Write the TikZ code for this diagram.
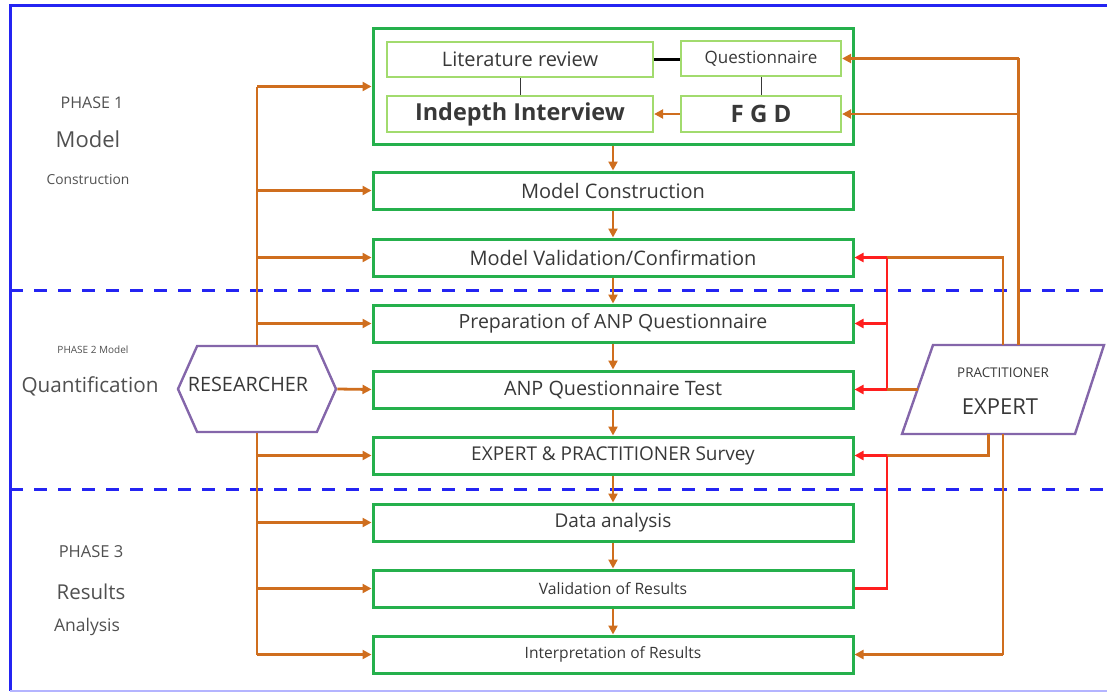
\documentclass[tikz,border=0pt]{standalone}
\usepackage{fontspec}
\setmainfont{Open Sans}
\usetikzlibrary{arrows.meta,shapes.geometric,shapes.symbols,calc}
\definecolor{frameblue}{HTML}{2424F2}
\definecolor{paleblue}{HTML}{B4B4FF}
\definecolor{boxgreen}{HTML}{25B04C}
\definecolor{lightgreen}{HTML}{A2DB6E}
\definecolor{arrorange}{HTML}{CF6E1E}
\definecolor{arrred}{HTML}{FF1E1E}
\definecolor{shapepurple}{HTML}{8466AA}
\definecolor{txt}{HTML}{383838}
\definecolor{lbl}{HTML}{505050}
\newcommand{\fs}[1]{\fontsize{#1}{#1}\selectfont}
\tikzset{
  mainbox/.style={draw=boxgreen, line width=3pt, minimum width=480pt, minimum height=37pt, inner sep=0pt, text=txt},
  subbox/.style={draw=lightgreen, line width=2.2pt, minimum height=35pt, inner sep=0pt, text=txt},
  oline/.style={draw=arrorange, line width=2.8pt},
  oarr/.style={oline, -{Triangle[length=9pt,width=9pt]}},
  rline/.style={draw=arrred, line width=2.8pt},
  rarr/.style={rline, -{Triangle[length=9pt,width=9pt]}},
  sidelbl/.style={text=lbl, inner sep=0pt},
  phasedash/.style={draw=frameblue, line width=3pt, dash pattern=on 13pt off 11pt}
}
\begin{document}
\begin{tikzpicture}[x=1pt,y=-1pt]
\useasboundingbox (0,0) rectangle (1107,693);
% frame
\draw[frameblue, line width=3pt] (10,691) -- (10,6) -- (1110,6);
\draw[paleblue, line width=1.5pt] (10,691) -- (1110,691);
\draw[phasedash] (10,290) -- (1110,290);
\draw[phasedash] (10,489) -- (1110,489);

% side labels
\node[sidelbl, font=\fs{16}] (p1) at (92,103) {PHASE 1};
\node[sidelbl, font=\fs{22}] (p1a) at (88,139) {Model};
\node[sidelbl, font=\fs{13.8}] (p1b) at (88,180) {Construction};
\node[sidelbl, font=\fs{10}] (p2) at (93,350) {PHASE 2 Model};
\node[sidelbl, font=\fs{20.7}] (p2a) at (90,386) {Quantification};
\node[sidelbl, font=\fs{16.5}] (p3) at (91,552) {PHASE 3};
\node[sidelbl, font=\fs{20.5}] (p3a) at (91,592) {Results};
\node[sidelbl, font=\fs{17.5}] (p3b) at (87,627) {Analysis};

% top group
\node[mainbox, minimum height=115pt] (top) at (613,86.5) {};
\node[subbox, minimum width=266pt, font=\fs{20}] (lit) at (520,59.5) {Literature review};
\node[subbox, minimum width=160pt, font=\fs{17}] (quest) at (761,58.5) {Questionnaire};
\node[subbox, minimum width=266pt, minimum height=36pt, font=\bfseries\fs{23.4}] (indepth) at (520,114) {Indepth Interview};
\node[subbox, minimum width=160pt, minimum height=36pt, font=\bfseries\fs{24}] (fgd) at (761,114) {F G D};
\draw[black, line width=3pt] (lit.east) -- (lit.east -| quest.west);
\draw[txt, line width=1pt] (lit.south) -- (indepth.north);
\draw[txt, line width=1pt] (quest.south) -- (fgd.north);
\draw[oarr] (fgd.west) -- (indepth.east);

% main column
\node[mainbox, font=\fs{20}] (mc) at (613,190.5) {Model Construction};
\node[mainbox, font=\fs{20}] (mv) at (613,257.5) {Model Validation/Confirmation};
\node[mainbox, font=\fs{19.5}] (prep) at (613,323.5) {Preparation of ANP Questionnaire};
\node[mainbox, font=\fs{19.8}] (test) at (613,389.5) {ANP Questionnaire Test};
\node[mainbox, font=\fs{19}] (survey) at (613,455.5) {EXPERT \& PRACTITIONER Survey};
\node[mainbox, font=\fs{19}] (data) at (613,522.5) {Data analysis};
\node[mainbox, font=\fs{15.7}] (valres) at (613,588.5) {Validation of Results};
\node[mainbox, font=\fs{15.6}] (interp) at (613,654.5) {Interpretation of Results};

\draw[oarr] (top) -- (mc);
\draw[oarr] (mc) -- (mv);
\draw[oarr] (mv) -- (prep);
\draw[oarr] (prep) -- (test);
\draw[oarr] (test) -- (survey);
\draw[oarr] (survey) -- (data);
\draw[oarr] (data) -- (valres);
\draw[oarr] (valres) -- (interp);

% researcher
\node[signal, signal to=west and east, signal pointer angle=132, draw=shapepurple, line width=2.4pt,
      minimum width=158pt, minimum height=86pt, inner sep=0pt] (res) at (257,389) {};
\node[text=txt, font=\fs{19.8}, inner sep=0pt] (restxt) at (248,384) {RESEARCHER};
\draw[oline] (res.north) -- (res.north |- top.west);
\draw[oline] (res.south) -- (res.south |- interp.west);
\draw[oarr] (res.north |- top.west) -- (top.west);
\draw[oarr] (res.north |- mc.west) -- (mc.west);
\draw[oarr] (res.north |- mv.west) -- (mv.west);
\draw[oarr] (res.north |- prep.west) -- (prep.west);
\draw[oarr] (res.east) -- (test.west);
\draw[oarr] (res.south |- survey.west) -- (survey.west);
\draw[oarr] (res.south |- data.west) -- (data.west);
\draw[oarr] (res.south |- valres.west) -- (valres.west);
\draw[oarr] (res.south |- interp.west) -- (interp.west);

% expert (parallelogram)
\coordinate (eBL) at (902,434);
\coordinate (eTL) at (933,345);
\coordinate (eTR) at (1104,345);
\coordinate (eBR) at (1075,434);
\draw[shapepurple, line width=2.4pt, line join=miter] (eBL) -- (eTL) -- (eTR) -- (eBR) -- cycle;
\coordinate (expN) at (1018.5,345);
\coordinate (expNc) at (1003,345);
\coordinate (expW) at (917.5,389.5);
\coordinate (expS) at (988.5,434);
\coordinate (expSc) at (1003,434);
\node[text=txt, font=\fs{13.4}, inner sep=0pt] (exptxt1) at (1003,373) {PRACTITIONER};
\node[text=txt, font=\fs{22}, inner sep=0pt] (exptxt2) at (1000,407) {EXPERT};

\coordinate (rj1) at (887,257.5);
\draw[oline] (expN) -- (expN |- quest.east);
\draw[oarr] (expN |- quest.east) -- (quest.east);
\draw[oarr] (expN |- fgd.east) -- (fgd.east);
\draw[oline] (expNc) -- (expNc |- mv.east) -- (rj1 |- mv.east);
\draw[rarr] (rj1 |- mv.east) -- (mv.east);
\draw[rline] (rj1 |- mv.east) -- (rj1 |- test.east);
\draw[rarr] (rj1 |- prep.east) -- (prep.east);
\draw[oline] (expW) -- (rj1 |- test.east);
\draw[rarr] (rj1 |- test.east) -- (test.east);
\draw[oline] (expS) -- (expS |- survey.east) -- (rj1 |- survey.east);
\draw[rarr] (rj1 |- survey.east) -- (survey.east);
\draw[rline] (rj1 |- survey.east) -- (rj1 |- valres.east) -- (valres.east);
\draw[oline] (expSc) -- (expSc |- interp.east);
\draw[oarr] (expSc |- interp.east) -- (interp.east);
\end{tikzpicture}
\end{document}
